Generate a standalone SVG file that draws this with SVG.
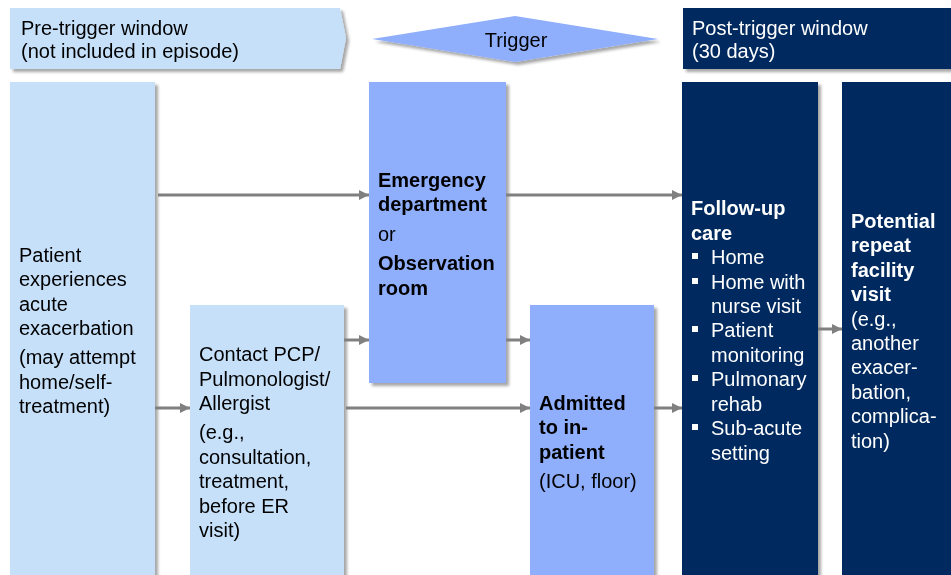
<svg xmlns="http://www.w3.org/2000/svg" width="951" height="575" viewBox="0 0 951 575">
<defs>
<filter id="sh" x="-10%" y="-10%" width="130%" height="130%">
<feGaussianBlur in="SourceAlpha" stdDeviation="1.5"/>
<feOffset dx="3" dy="3" result="b"/>
<feComponentTransfer><feFuncA type="linear" slope="0.35"/></feComponentTransfer>
<feMerge><feMergeNode/><feMergeNode in="SourceGraphic"/></feMerge>
</filter>
<marker id="ah" viewBox="0 0 10 10" refX="10" refY="5" markerWidth="3.4" markerHeight="3.6" orient="auto" markerUnits="strokeWidth">
<path d="M0,0 L10,5 L0,10 z" fill="#808080"/>
</marker>
</defs>
<style>
text{font-family:"Liberation Sans",Arial,sans-serif;font-size:20px;fill:#000}
.w{fill:#fff}
.b{font-weight:bold}
.lb{fill:#C6E0FA}
.mb{fill:#8FAEFC}
.nv{fill:#002A5E}
.c line{stroke:#808080;stroke-width:3;marker-end:url(#ah)}
</style>
<rect width="951" height="575" fill="#fff"/>

<g id="pre-window" filter="url(#sh)">
<path class="lb" d="M10,8 H340 L346,38 L340,69 H10 Z"/>
<text x="21" y="35">Pre-trigger window</text>
<text x="21" y="58">(not included in episode)</text>
</g>
<g id="trigger" filter="url(#sh)">
<path class="mb" d="M515,16 L658,39 L515,62 L372,39 Z"/>
<text x="516" y="47" text-anchor="middle">Trigger</text>
</g>
<g id="post-window" filter="url(#sh)">
<rect class="nv" x="683" y="8" width="275" height="61"/>
<text class="w" x="692" y="35">Post-trigger window</text>
<text class="w" x="692" y="58">(30 days)</text>
</g>

<g id="patient" filter="url(#sh)">
<rect class="lb" x="10" y="82" width="145" height="500"/>
<text x="19" y="262">Patient</text>
<text x="19" y="286">experiences</text>
<text x="19" y="311">acute</text>
<text x="19" y="335">exacerbation</text>
<text x="19" y="364">(may attempt</text>
<text x="19" y="389">home/self-</text>
<text x="19" y="413">treatment)</text>
</g>
<g id="contact" filter="url(#sh)">
<rect class="lb" x="190" y="305" width="154" height="280"/>
<text x="199" y="361">Contact PCP/</text>
<text x="199" y="386">Pulmonologist/</text>
<text x="199" y="410">Allergist</text>
<text x="199" y="439">(e.g.,</text>
<text x="199" y="464">consultation,</text>
<text x="199" y="488">treatment,</text>
<text x="199" y="513">before ER</text>
<text x="199" y="537">visit)</text>
</g>
<g id="emergency" filter="url(#sh)">
<rect class="mb" x="369" y="82" width="137" height="301"/>
<text class="b" x="378" y="187">Emergency</text>
<text class="b" x="378" y="211">department</text>
<text x="378" y="241">or</text>
<text class="b" x="378" y="270">Observation</text>
<text class="b" x="378" y="295">room</text>
</g>
<g id="admitted" filter="url(#sh)">
<rect class="mb" x="530" y="305" width="124" height="280"/>
<text class="b" x="539" y="410">Admitted</text>
<text class="b" x="539" y="434">to in-</text>
<text class="b" x="539" y="459">patient</text>
<text x="539" y="488">(ICU, floor)</text>
</g>
<g id="followup" filter="url(#sh)">
<rect class="nv" x="682" y="82" width="136" height="500"/>
<text class="w b" x="691" y="215">Follow-up</text>
<text class="w b" x="691" y="240">care</text>
<g fill="#fff">
<rect x="692" y="253" width="6" height="6"/>
<rect x="692" y="278" width="6" height="6"/>
<rect x="692" y="326" width="6" height="6"/>
<rect x="692" y="375" width="6" height="6"/>
<rect x="692" y="424" width="6" height="6"/>
</g>
<text class="w" x="711" y="264">Home</text>
<text class="w" x="711" y="289">Home with</text>
<text class="w" x="711" y="313">nurse visit</text>
<text class="w" x="711" y="337">Patient</text>
<text class="w" x="711" y="362">monitoring</text>
<text class="w" x="711" y="386">Pulmonary</text>
<text class="w" x="711" y="411">rehab</text>
<text class="w" x="711" y="435">Sub-acute</text>
<text class="w" x="711" y="460">setting</text>
</g>
<g id="repeat" filter="url(#sh)">
<rect class="nv" x="842" y="82" width="115" height="500"/>
<text class="w b" x="851" y="228">Potential</text>
<text class="w b" x="851" y="252">repeat</text>
<text class="w b" x="851" y="277">facility</text>
<text class="w b" x="851" y="301">visit</text>
<text class="w" x="851" y="326">(e.g.,</text>
<text class="w" x="851" y="350">another</text>
<text class="w" x="851" y="374">exacer-</text>
<text class="w" x="851" y="399">bation,</text>
<text class="w" x="851" y="423">complica-</text>
<text class="w" x="851" y="448">tion)</text>
</g>

<g id="connectors" class="c">
<line x1="158" y1="195" x2="369" y2="195"/>
<line x1="506" y1="195" x2="682" y2="195"/>
<line x1="344" y1="340" x2="369" y2="340"/>
<line x1="506" y1="340" x2="530" y2="340"/>
<line x1="155" y1="408" x2="190" y2="408"/>
<line x1="346" y1="408" x2="530" y2="408"/>
<line x1="654" y1="408" x2="682" y2="408"/>
<line x1="818" y1="329" x2="842" y2="329"/>
</g>
</svg>
